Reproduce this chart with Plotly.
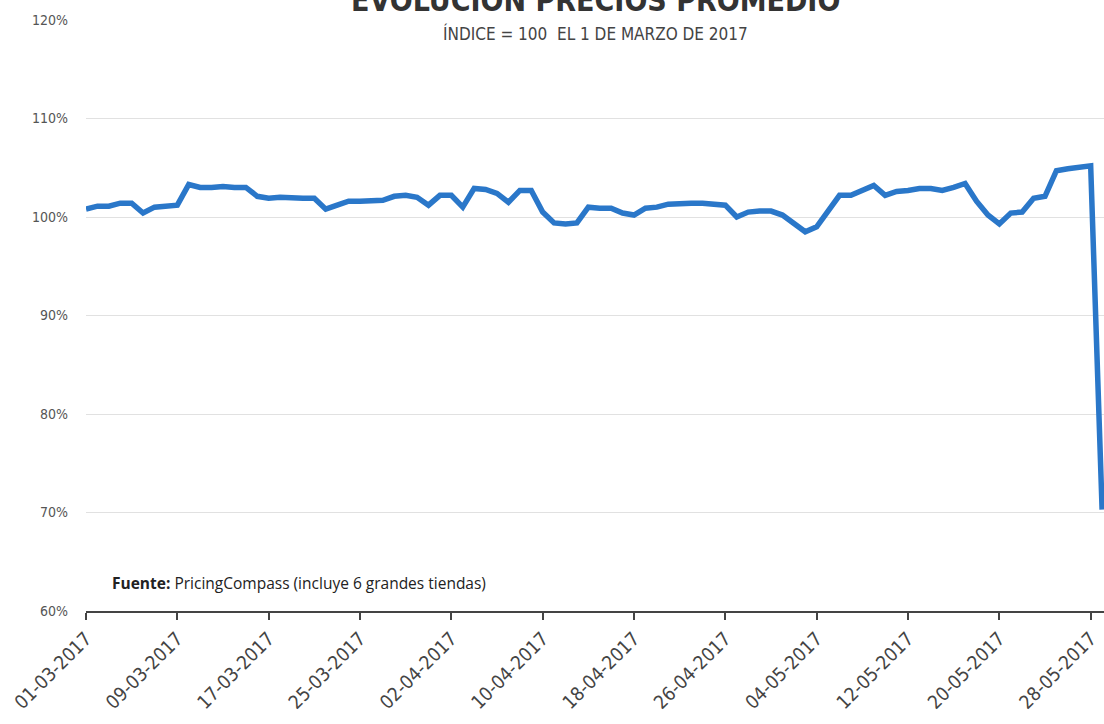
import pandas as pd
import plotly.graph_objects as go

# ---- data ----
start_date = "2017-03-01"
values = [
    100.8, 101.1, 101.1, 101.4, 101.4, 100.4, 101.0, 101.1, 101.2, 103.3,
    103.0, 103.0, 103.1, 103.0, 103.0, 102.1, 101.9, 102.0, 101.9, 101.9,
    101.9, 100.8, 101.2, 101.6, 101.6, 101.6, 101.7, 102.1, 102.2, 102.0,
    101.2, 102.2, 102.2, 101.0, 102.9, 102.8, 102.4, 101.5, 102.7, 102.7,
    100.5, 99.4, 99.3, 99.4, 101.0, 100.9, 100.9, 100.4, 100.2, 100.9,
    101.0, 101.3, 101.4, 101.4, 101.4, 101.3, 101.2, 100.0, 100.5, 100.6,
    100.6, 100.2, 99.4, 98.5, 99.0, 100.5, 102.2, 102.2, 102.7, 103.2,
    102.2, 102.6, 102.7, 102.9, 102.9, 102.7, 103.0, 103.4, 101.6, 100.2,
    99.3, 100.4, 100.5, 101.9, 102.1, 104.7, 104.9, 105.0, 105.2, 70.3,
]
dates = pd.date_range(start_date, periods=len(values), freq="D")
y_ticks = [60, 70, 80, 90, 100, 110, 120]
y_tick_labels = [f"{v}%" for v in y_ticks]

title_text = "EVOLUCIÓN PRECIOS PROMEDIO"
subtitle_text = "ÍNDICE = 100  EL 1 DE MARZO DE 2017"
source_text = "<b>Fuente:</b> PricingCompass (incluye 6 grandes tiendas)"

COND = "Liberation Sans Narrow, DejaVu Sans Condensed, Roboto, sans-serif"

fig = go.Figure()
fig.add_trace(go.Scatter(
    x=dates, y=values, mode="lines",
    line=dict(color="#2a77c9", width=5.5),
    hoverinfo="skip", showlegend=False,
))

fig.update_layout(
    width=1104, height=724,
    margin=dict(l=86, r=0, t=20, b=113),
    paper_bgcolor="white", plot_bgcolor="white",
    showlegend=False,
)

fig.update_xaxes(
    type="date",
    range=[pd.Timestamp(start_date), pd.Timestamp("2017-05-29 04:00")],
    tick0=start_date, dtick=8 * 86400000, tickformat="%d-%m-%Y",
    tickangle=-45,
    tickfont=dict(family=COND, size=19, color="#444444"),
    showline=True, linecolor="#444444", linewidth=2,
    ticks="outside", ticklen=7, tickwidth=2, tickcolor="#444444",
    showgrid=False, zeroline=False, automargin=False,
)
fig.update_yaxes(
    range=[60, 120],
    tickvals=y_ticks, ticktext=y_tick_labels,
    tickfont=dict(family=COND, size=14, color="#555555"),
    showgrid=True, gridcolor="#e1e1e1", gridwidth=1,
    showline=False, zeroline=False, ticks="", ticklabelstandoff=17,
    automargin=False,
)

fig.add_annotation(
    text=f"<b>{title_text}</b>", xref="paper", yref="paper",
    x=0.5, y=1.0, xanchor="center", yanchor="bottom", showarrow=False,
    font=dict(family=COND, size=30, color="#333333"),
)
fig.add_annotation(
    text=subtitle_text, xref="paper", yref="paper",
    x=0.5, y=0.978, xanchor="center", yanchor="middle", showarrow=False,
    font=dict(family=COND, size=17, color="#444444"),
)
fig.add_annotation(
    text=source_text, xref="paper", yref="paper",
    x=0.0236, y=0.047, xanchor="left", yanchor="middle", showarrow=False,
    font=dict(family="Open Sans, sans-serif", size=15.5, color="#222222"),
)

fig.write_html(
    "out.html",
    config={"displayModeBar": False},
    post_script="document.body.style.margin='0';document.body.style.overflow='hidden';",
)
